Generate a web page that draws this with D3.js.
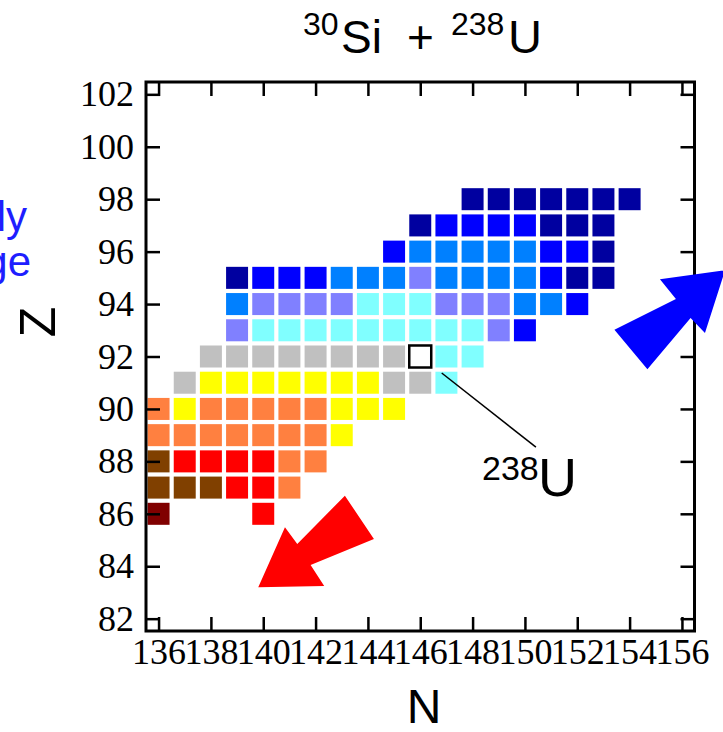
<!DOCTYPE html>
<html>
<head>
<meta charset="utf-8">
<script src="https://cdn.jsdelivr.net/npm/d3@7"></script>
<style>
  body { margin: 0; background: #fff; }
</style>
</head>
<body>
<div id="chart"></div>
<script>
// one row per proton number Z: first neutron number N and a code for each cell ("." = empty, U = 238U target)
var zRows = [98, 97, 96, 95, 94, 93, 92, 91, 90, 89, 88, 87, 86];
var rowStartN = [148, 146, 145, 139, 139, 139, 138, 137, 136, 136, 136, 136, 136];
var rowCodes = ["NNNNNNN", "NBBBBNNN", "BAAAAABBN", "NBBBAAALAAAABNN", "ALLLLCCCLLLAAB",
                "LCCCCCCCCCLB", "GGGGGGGGUCC", "GYYYYYYYGGC", "OYOOOOOYYY", "OOOOOOOY",
                "WRRRROO", "WWWRRO", "M...R"];

var categoryCodes = ["N", "B", "A", "L", "C", "G", "Y", "O", "R", "W", "M", "U"];
var categoryColors = ["#0000a0", "#0000ff", "#0080ff", "#8080ff", "#80ffff", "#c0c0c0",
                      "#ffff00", "#ff8040", "#ff0000", "#804000", "#800000", "#ffffff"];

var xTicks = [136, 138, 140, 142, 144, 146, 148, 150, 152, 154, 156];
var yTicks = [82, 84, 86, 88, 90, 92, 94, 96, 98, 100, 102];

// arrows and leader line, given in (N, Z)
var redArrowN = [139.81, 140.83, 141.30, 143.12, 144.23, 141.81, 142.33];
var redArrowZ = [83.20, 85.49, 84.85, 86.69, 85.04, 84.05, 83.25];
var blueArrowN = [157.65, 155.16, 155.77, 153.42, 154.68, 156.33, 156.88];
var blueArrowZ = [95.29, 94.95, 94.19, 93.02, 91.51, 93.47, 92.90];
var leaderN = [146.82, 150.42];
var leaderZ = [91.37, 88.54];

var svgWidth = 723;
var svgHeight = 732;

var svg = d3.select("#chart")
    .append("svg")
    .attr("width", svgWidth)
    .attr("height", svgHeight);

// scales
var x = d3.scaleLinear().domain([135.52, 156.48]).range([146, 694.5]);
var y = d3.scaleLinear().domain([81.53, 102.47]).range([631, 82]);
var color = d3.scaleOrdinal().domain(categoryCodes).range(categoryColors);

// flatten rows into cells
var cells = [];
zRows.forEach(function(z, i) {
    rowCodes[i].split("").forEach(function(c, j) {
        if (c !== ".") cells.push({n: rowStartN[i] + j, z: z, code: c});
    });
});

var half = 0.42;
svg.append("g").selectAll("rect")
    .data(cells)
    .enter()
    .append("rect")
    .attr("x", d => x(d.n - half))
    .attr("y", d => y(d.z + half))
    .attr("width", d => x(d.n + half) - x(d.n - half))
    .attr("height", d => y(d.z - half) - y(d.z + half))
    .attr("fill", d => color(d.code))
    .attr("stroke", d => d.code === "U" ? "#000" : "none")
    .attr("stroke-width", 2.5);

// frame
svg.append("rect")
    .attr("x", x.range()[0])
    .attr("y", y.range()[1])
    .attr("width", x.range()[1] - x.range()[0])
    .attr("height", y.range()[0] - y.range()[1])
    .attr("fill", "none")
    .attr("stroke", "#000")
    .attr("stroke-width", 3);

function styleAxis(g) {
    g.select(".domain").remove();
    g.selectAll(".tick line").attr("stroke", "#000").attr("stroke-width", 2.5);
    g.selectAll(".tick text")
        .attr("fill", "#000")
        .style("font-family", "'Liberation Serif', 'Times New Roman', serif")
        .style("font-size", "36px");
}

svg.append("g")
    .attr("transform", `translate(0,${y.range()[0]})`)
    .call(d3.axisBottom(x).tickValues(xTicks).tickSize(-14).tickPadding(7))
    .call(styleAxis);

svg.append("g")
    .attr("transform", `translate(0,${y.range()[1]})`)
    .call(d3.axisTop(x).tickValues(xTicks).tickSize(-14).tickFormat(""))
    .call(styleAxis);

svg.append("g")
    .attr("transform", `translate(${x.range()[0]},0)`)
    .call(d3.axisLeft(y).tickValues(yTicks).tickSize(-14).tickPadding(12))
    .call(styleAxis);

svg.append("g")
    .attr("transform", `translate(${x.range()[1]},0)`)
    .call(d3.axisRight(y).tickValues(yTicks).tickSize(-14).tickFormat(""))
    .call(styleAxis);

// leader line to the 238U box
svg.append("line")
    .attr("x1", x(leaderN[0])).attr("y1", y(leaderZ[0]))
    .attr("x2", x(leaderN[1])).attr("y2", y(leaderZ[1]))
    .attr("stroke", "#000")
    .attr("stroke-width", 1.5);

// arrows
function arrowPath(ns, zs) {
    return d3.line()(ns.map((n, i) => [x(n), y(zs[i])])) + "Z";
}
svg.append("path").attr("d", arrowPath(redArrowN, redArrowZ)).attr("fill", "#ff0000");
svg.append("path").attr("d", arrowPath(blueArrowN, blueArrowZ)).attr("fill", "#0000ff");

var sans = "'Liberation Sans', Arial, Helvetica, sans-serif";

// title
var title = svg.append("g").style("font-family", sans).attr("fill", "#000");
title.append("text").attr("x", 303).attr("y", 35).style("font-size", "32px").text("30");
title.append("text").attr("x", 341).attr("y", 53).style("font-size", "46px").text("Si");
title.append("text").attr("x", 407).attr("y", 53).style("font-size", "46px").text("+");
title.append("text").attr("x", 451).attr("y", 35).style("font-size", "32px").text("238");
title.append("text").attr("x", 508).attr("y", 53).style("font-size", "47px").text("U");

// 238U label
var lab = svg.append("g").style("font-family", sans).attr("fill", "#000");
lab.append("text").attr("x", 482).attr("y", 480).style("font-size", "34px").text("238");
lab.append("text").attr("x", 538).attr("y", 496).style("font-size", "54px").text("U");

// axis titles
svg.append("text")
    .attr("x", 424).attr("y", 723)
    .attr("text-anchor", "middle")
    .style("font-family", sans)
    .style("font-size", "48px")
    .text("N");

svg.append("text")
    .attr("transform", "translate(55,322) rotate(-90)")
    .attr("text-anchor", "middle")
    .style("font-family", sans)
    .style("font-size", "50px")
    .text("Z");

// clipped text from the neighbouring panel
svg.append("text")
    .attr("x", 27).attr("y", 231)
    .attr("text-anchor", "end")
    .attr("fill", "#1e1eff")
    .style("font-family", sans)
    .style("font-size", "42px")
    .text("ly");
svg.append("text")
    .attr("x", 31).attr("y", 276)
    .attr("text-anchor", "end")
    .attr("fill", "#1e1eff")
    .style("font-family", sans)
    .style("font-size", "42px")
    .text("ge");
</script>
</body>
</html>
